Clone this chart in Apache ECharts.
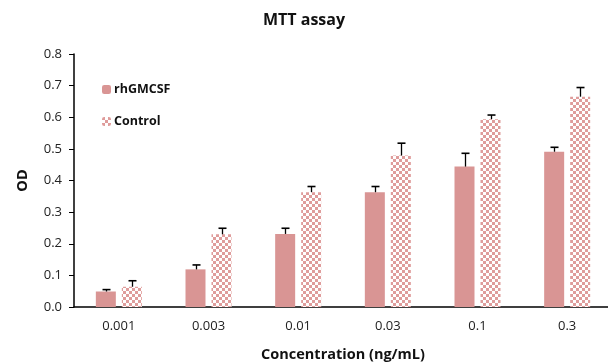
<!DOCTYPE html>
<html>
<head>
<meta charset="utf-8">
<script src="https://cdn.jsdelivr.net/npm/echarts@6/dist/echarts.min.js"></script>
<style>
    html, body { margin: 0; padding: 0; background: #fff; }
    #chart { width: 608px; height: 362px; }
</style>
</head>
<body>
<div id="chart"></div>
<script>
// data
var concentrations = ['0.001', '0.003', '0.01', '0.03', '0.1', '0.3'];
var rhValues = [0.049, 0.119, 0.231, 0.363, 0.444, 0.491];
var rhErrors = [0.006, 0.014, 0.018, 0.018, 0.042, 0.014];
var controlValues = [0.064, 0.230, 0.363, 0.479, 0.594, 0.665];
var controlErrors = [0.019, 0.019, 0.018, 0.039, 0.013, 0.029];
var yTicks = [0, 0.1, 0.2, 0.3, 0.4, 0.5, 0.6, 0.7, 0.8];

var font = 'Open Sans';

// small checkerboard used for the Control bars
function checker() {
    var c = document.createElement('canvas');
    c.width = 6;
    c.height = 6;
    var ctx = c.getContext('2d');
    ctx.fillStyle = '#ffffff';
    ctx.fillRect(0, 0, 6, 6);
    ctx.fillStyle = '#df9c9b';
    ctx.fillRect(0, 0, 3, 3);
    ctx.fillRect(3, 3, 3, 3);
    return c;
}

var BAR_W = 20;
var OFFSET = 13;

function errorSeries(values, errors, shift) {
    var data = values.map(function (v, i) {
        return [i, v, v + errors[i]];
    });
    return {
        type: 'custom',
        silent: true,
        z: 5,
        data: data,
        renderItem: function (params, api) {
            var base = api.coord([api.value(0), api.value(1)]);
            var top = api.coord([api.value(0), api.value(2)]);
            var x = Math.round(base[0] + shift) + 0.5;
            return {
                type: 'group',
                children: [{
                    type: 'line',
                    shape: {x1: x, y1: base[1], x2: x, y2: top[1]},
                    style: {stroke: '#000', lineWidth: 1.3}
                }, {
                    type: 'line',
                    shape: {x1: x - 4, y1: top[1], x2: x + 4, y2: top[1]},
                    style: {stroke: '#000', lineWidth: 1.6}
                }]
            };
        }
    };
}

var chart = echarts.init(document.getElementById('chart'));
chart.setOption({
    animation: false,
    backgroundColor: '#fff',
    title: {
        text: 'MTT assay',
        left: 'center',
        top: 7,
        textStyle: {fontFamily: font, fontSize: 16, fontWeight: 'bold', color: '#111'}
    },
    legend: {
        orient: 'vertical',
        left: 97,
        top: 78,
        itemWidth: 9,
        itemHeight: 9,
        itemGap: 19,
        data: ['rhGMCSF', 'Control'],
        textStyle: {fontFamily: font, fontSize: 12.5, fontWeight: 'bold', color: '#111', padding: [0, 0, 0, -2]}
    },
    grid: {left: 74, right: -4, top: 54, bottom: 55, containLabel: false, outerBoundsMode: 'none'},
    xAxis: {
        type: 'category',
        data: concentrations,
        name: 'Concentration (ng/mL)',
        nameLocation: 'middle',
        nameGap: 40,
        nameTextStyle: {fontFamily: font, fontSize: 14.5, fontWeight: 'bold', color: '#111'},
        axisLine: {lineStyle: {color: '#000', width: 1.5}},
        axisTick: {show: false},
        axisLabel: {fontFamily: font, fontSize: 13, color: '#222', margin: 13}
    },
    yAxis: {
        type: 'value',
        min: yTicks[0],
        max: yTicks[yTicks.length - 1],
        interval: 0.1,
        name: 'OD',
        nameLocation: 'middle',
        nameGap: 44,
        nameRotate: 90,
        nameTextStyle: {fontFamily: font, fontSize: 14.5, fontWeight: 'bold', color: '#111'},
        axisLine: {show: true, lineStyle: {color: '#000', width: 1.5}},
        axisTick: {show: true, length: 5, lineStyle: {color: '#000'}},
        splitLine: {show: false},
        axisLabel: {
            fontFamily: font,
            fontSize: 13,
            color: '#222',
            margin: 12,
            formatter: function (v) { return v.toFixed(1); }
        }
    },
    series: [{
        name: 'rhGMCSF',
        type: 'bar',
        barWidth: BAR_W,
        barGap: '30%',
        data: rhValues,
        itemStyle: {color: '#d99594'}
    }, {
        name: 'Control',
        type: 'bar',
        barWidth: BAR_W,
        barGap: '30%',
        data: controlValues,
        itemStyle: {color: {image: checker(), repeat: 'repeat'}}
    },
    errorSeries(rhValues, rhErrors, -OFFSET),
    errorSeries(controlValues, controlErrors, OFFSET)]
});
</script>
</body>
</html>
